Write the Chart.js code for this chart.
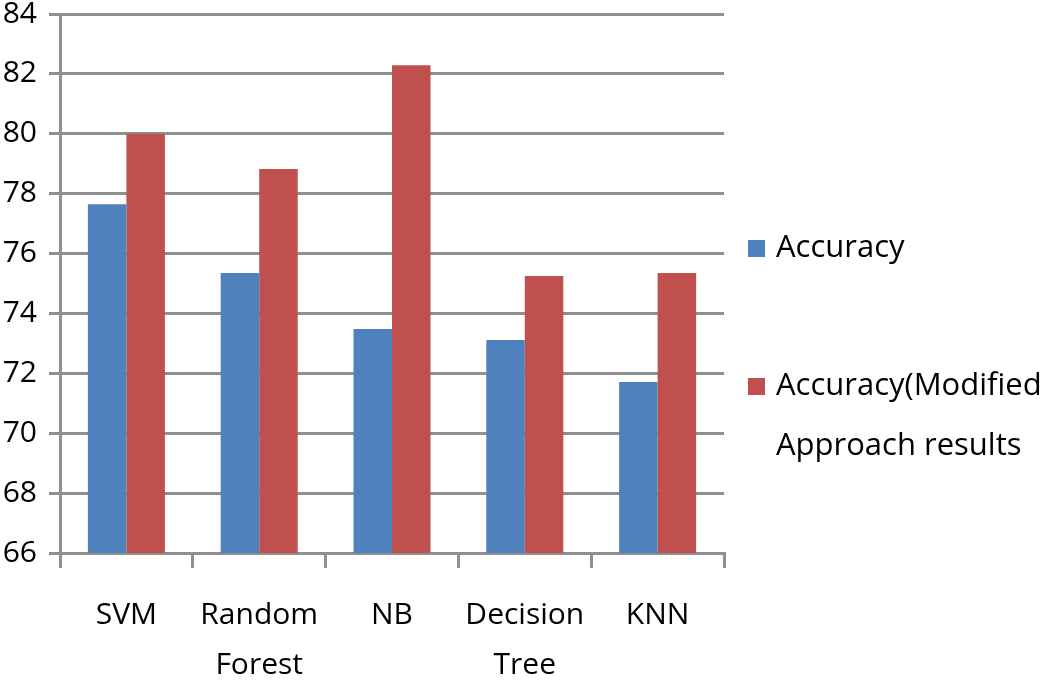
<!DOCTYPE html>
<html>
<head>
<meta charset="utf-8">
<script src="https://cdn.jsdelivr.net/npm/chart.js@4"></script>
<style>
	html, body { margin: 0; padding: 0; background: #fff; }
	#wrap { position: relative; width: 1046px; height: 686px; }
</style>
</head>
<body>
<div id="wrap"><canvas id="chart"></canvas></div>
<script>
/* Accuracy vs modified approach -- grouped bar chart */

const categories = [["SVM"], ["Random", "Forest"], ["NB"], ["Decision", "Tree"], ["KNN"]];
const accuracy = [77.65, 75.35, 73.48, 73.11, 71.71];
const accuracyModified = [80.0, 78.82, 82.29, 75.25, 75.35];
const seriesLabels = ["Accuracy", "Accuracy(Modified Approach results"];
const legendLines = [["Accuracy"], ["Accuracy(Modified", "Approach results"]];
const yTicks = [66, 68, 70, 72, 74, 76, 78, 80, 82, 84];

const COLORS = {
	blue: "#4f81bd",
	red: "#c0504d",
	grid: "#8f8f8f",
	text: "#000",
};

const FONT = "'Open Sans', 'Liberation Sans', sans-serif";

// Draws the right-hand legend, Excel style, with wrapped labels
const sideLegend = {
	id: "sideLegend",
	afterDraw(chart) {
		const ctx = chart.ctx;
		const x = 748;
		const rows = [248, 386];
		ctx.save();
		ctx.font = "31px " + FONT;
		ctx.textBaseline = "middle";
		chart.data.datasets.forEach((ds, i) => {
			const y = rows[i];
			ctx.fillStyle = ds.backgroundColor;
			ctx.fillRect(x, y - 8, 17, 17);
			ctx.fillStyle = COLORS.text;
			legendLines[i].forEach((line, j) => {
				ctx.fillText(line, x + 28, y + j * 60);
			});
		});
		ctx.restore();
	},
};

new Chart(document.getElementById("chart"), {
	type: "bar",
	data: {
		labels: categories,
		datasets: [
			{ label: seriesLabels[0], data: accuracy, backgroundColor: COLORS.blue },
			{ label: seriesLabels[1], data: accuracyModified, backgroundColor: COLORS.red },
		],
	},
	options: {
		responsive: true,
		maintainAspectRatio: false,
		animation: false,
		layout: { padding: { top: 14, right: 322, left: 0, bottom: 0 } },
		datasets: { bar: { categoryPercentage: 0.58, barPercentage: 1 } },
		plugins: {
			legend: { display: false },
			tooltip: { enabled: false },
		},
		scales: {
			x: {
				afterFit: axis => { axis.height = 133; },
				grid: {
					offset: true,
					drawOnChartArea: false,
					drawTicks: true,
					tickLength: 15,
					color: COLORS.grid,
					lineWidth: 3,
				},
				border: { display: true, color: COLORS.grid, width: 3 },
				ticks: {
					color: COLORS.text,
					font: { family: FONT, size: 30, lineHeight: 1.68 },
					padding: 22,
					maxRotation: 0,
					autoSkip: false,
				},
			},
			y: {
				min: yTicks[0],
				max: yTicks[yTicks.length - 1],
				afterBuildTicks: axis => { axis.ticks = yTicks.map(v => ({ value: v })); },
				afterFit: axis => {
					axis.width = 60;
					axis.paddingTop = 0;
					axis.paddingBottom = 0;
				},
				grid: {
					color: COLORS.grid,
					lineWidth: 3,
					tickLength: 11,
				},
				border: { display: true, color: COLORS.grid, width: 3 },
				ticks: {
					color: COLORS.text,
					font: { family: FONT, size: 30 },
					padding: 12,
				},
			},
		},
	},
	plugins: [sideLegend],
});
</script>
</body>
</html>
